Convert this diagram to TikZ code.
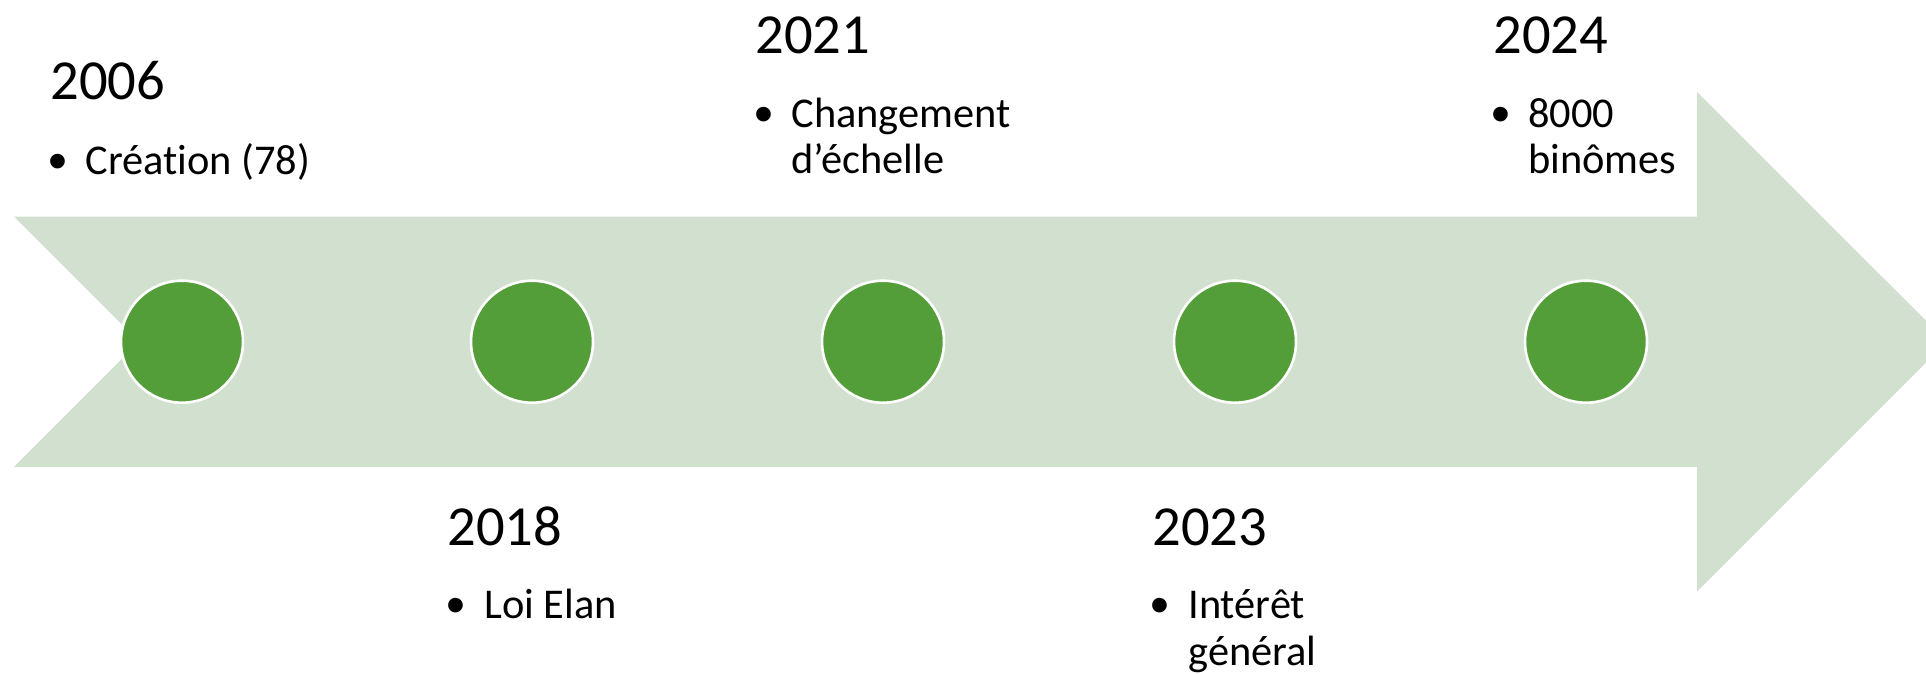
\documentclass[tikz,border=0pt]{standalone}
\usepackage{fontspec}
\setmainfont[Ligatures=NoCommon]{Carlito}
\newfontfamily\bulletfont{Liberation Sans}
\definecolor{bandgreen}{RGB}{210,224,207}
\definecolor{dotgreen}{RGB}{84,158,57}
\begin{document}
\begin{tikzpicture}[x=0.5pt,y=-0.5pt,
  yearlbl/.style={anchor=base west,inner sep=0pt,font=\fontsize{28.3pt}{34pt}\selectfont},
  itemlbl/.style={anchor=base west,inner sep=0pt,font=\fontsize{21.2pt}{25pt}\selectfont},
  bulletlbl/.style={anchor=base west,inner sep=0pt,yshift=-2.8pt,font=\bulletfont\fontsize{27pt}{30pt}\selectfont},
  milestone/.style={circle,fill=dotgreen,draw=white,line width=1.3pt,minimum size=61pt,inner sep=0pt}]
\useasboundingbox (0,0) rectangle (1926,674);
\clip (0,0) rectangle (1926,674);
% timeline arrow
\fill[bandgreen] (14,216.5) -- (1697,216.5) -- (1697,92) -- (1947,341.7) -- (1697,591.5)
  -- (1697,467) -- (14,467) -- (139,341.7) -- cycle;
% milestones
\node[milestone] (m1) at (182,341.7) {};
\node[milestone] (m2) at (532,341.7) {};
\node[milestone] (m3) at (883,341.7) {};
\node[milestone] (m4) at (1235,341.7) {};
\node[milestone] (m5) at (1586,341.7) {};
% 2006
\node[yearlbl] (y1) at (50,100) {2006};
\node[bulletlbl] (b1) at (48,174) {•};
\node[itemlbl] (t1) at (85,174) {Création (78)};
% 2018
\node[yearlbl] (y2) at (447,545) {2018};
\node[bulletlbl] (b2) at (446,618) {•};
\node[itemlbl] (t2) at (484,618) {Loi Elan};
% 2021
\node[yearlbl] (y3) at (755,53.5) {2021};
\node[bulletlbl] (b3) at (754,127) {•};
\node[itemlbl] (t3a) at (791,127) {Changement};
\node[itemlbl] (t3b) at (791,173.5) {d’échelle};
% 2023
\node[yearlbl] (y4) at (1152,545) {2023};
\node[bulletlbl] (b4) at (1150,618) {•};
\node[itemlbl] (t4a) at (1188,618) {Intérêt};
\node[itemlbl] (t4b) at (1188,665) {général};
% 2024
\node[yearlbl] (y5) at (1493,53.5) {2024};
\node[bulletlbl] (b5) at (1491,127) {•};
\node[itemlbl] (t5a) at (1528,127) {8000};
\node[itemlbl] (t5b) at (1528,173.5) {binômes};
\end{tikzpicture}
\end{document}
